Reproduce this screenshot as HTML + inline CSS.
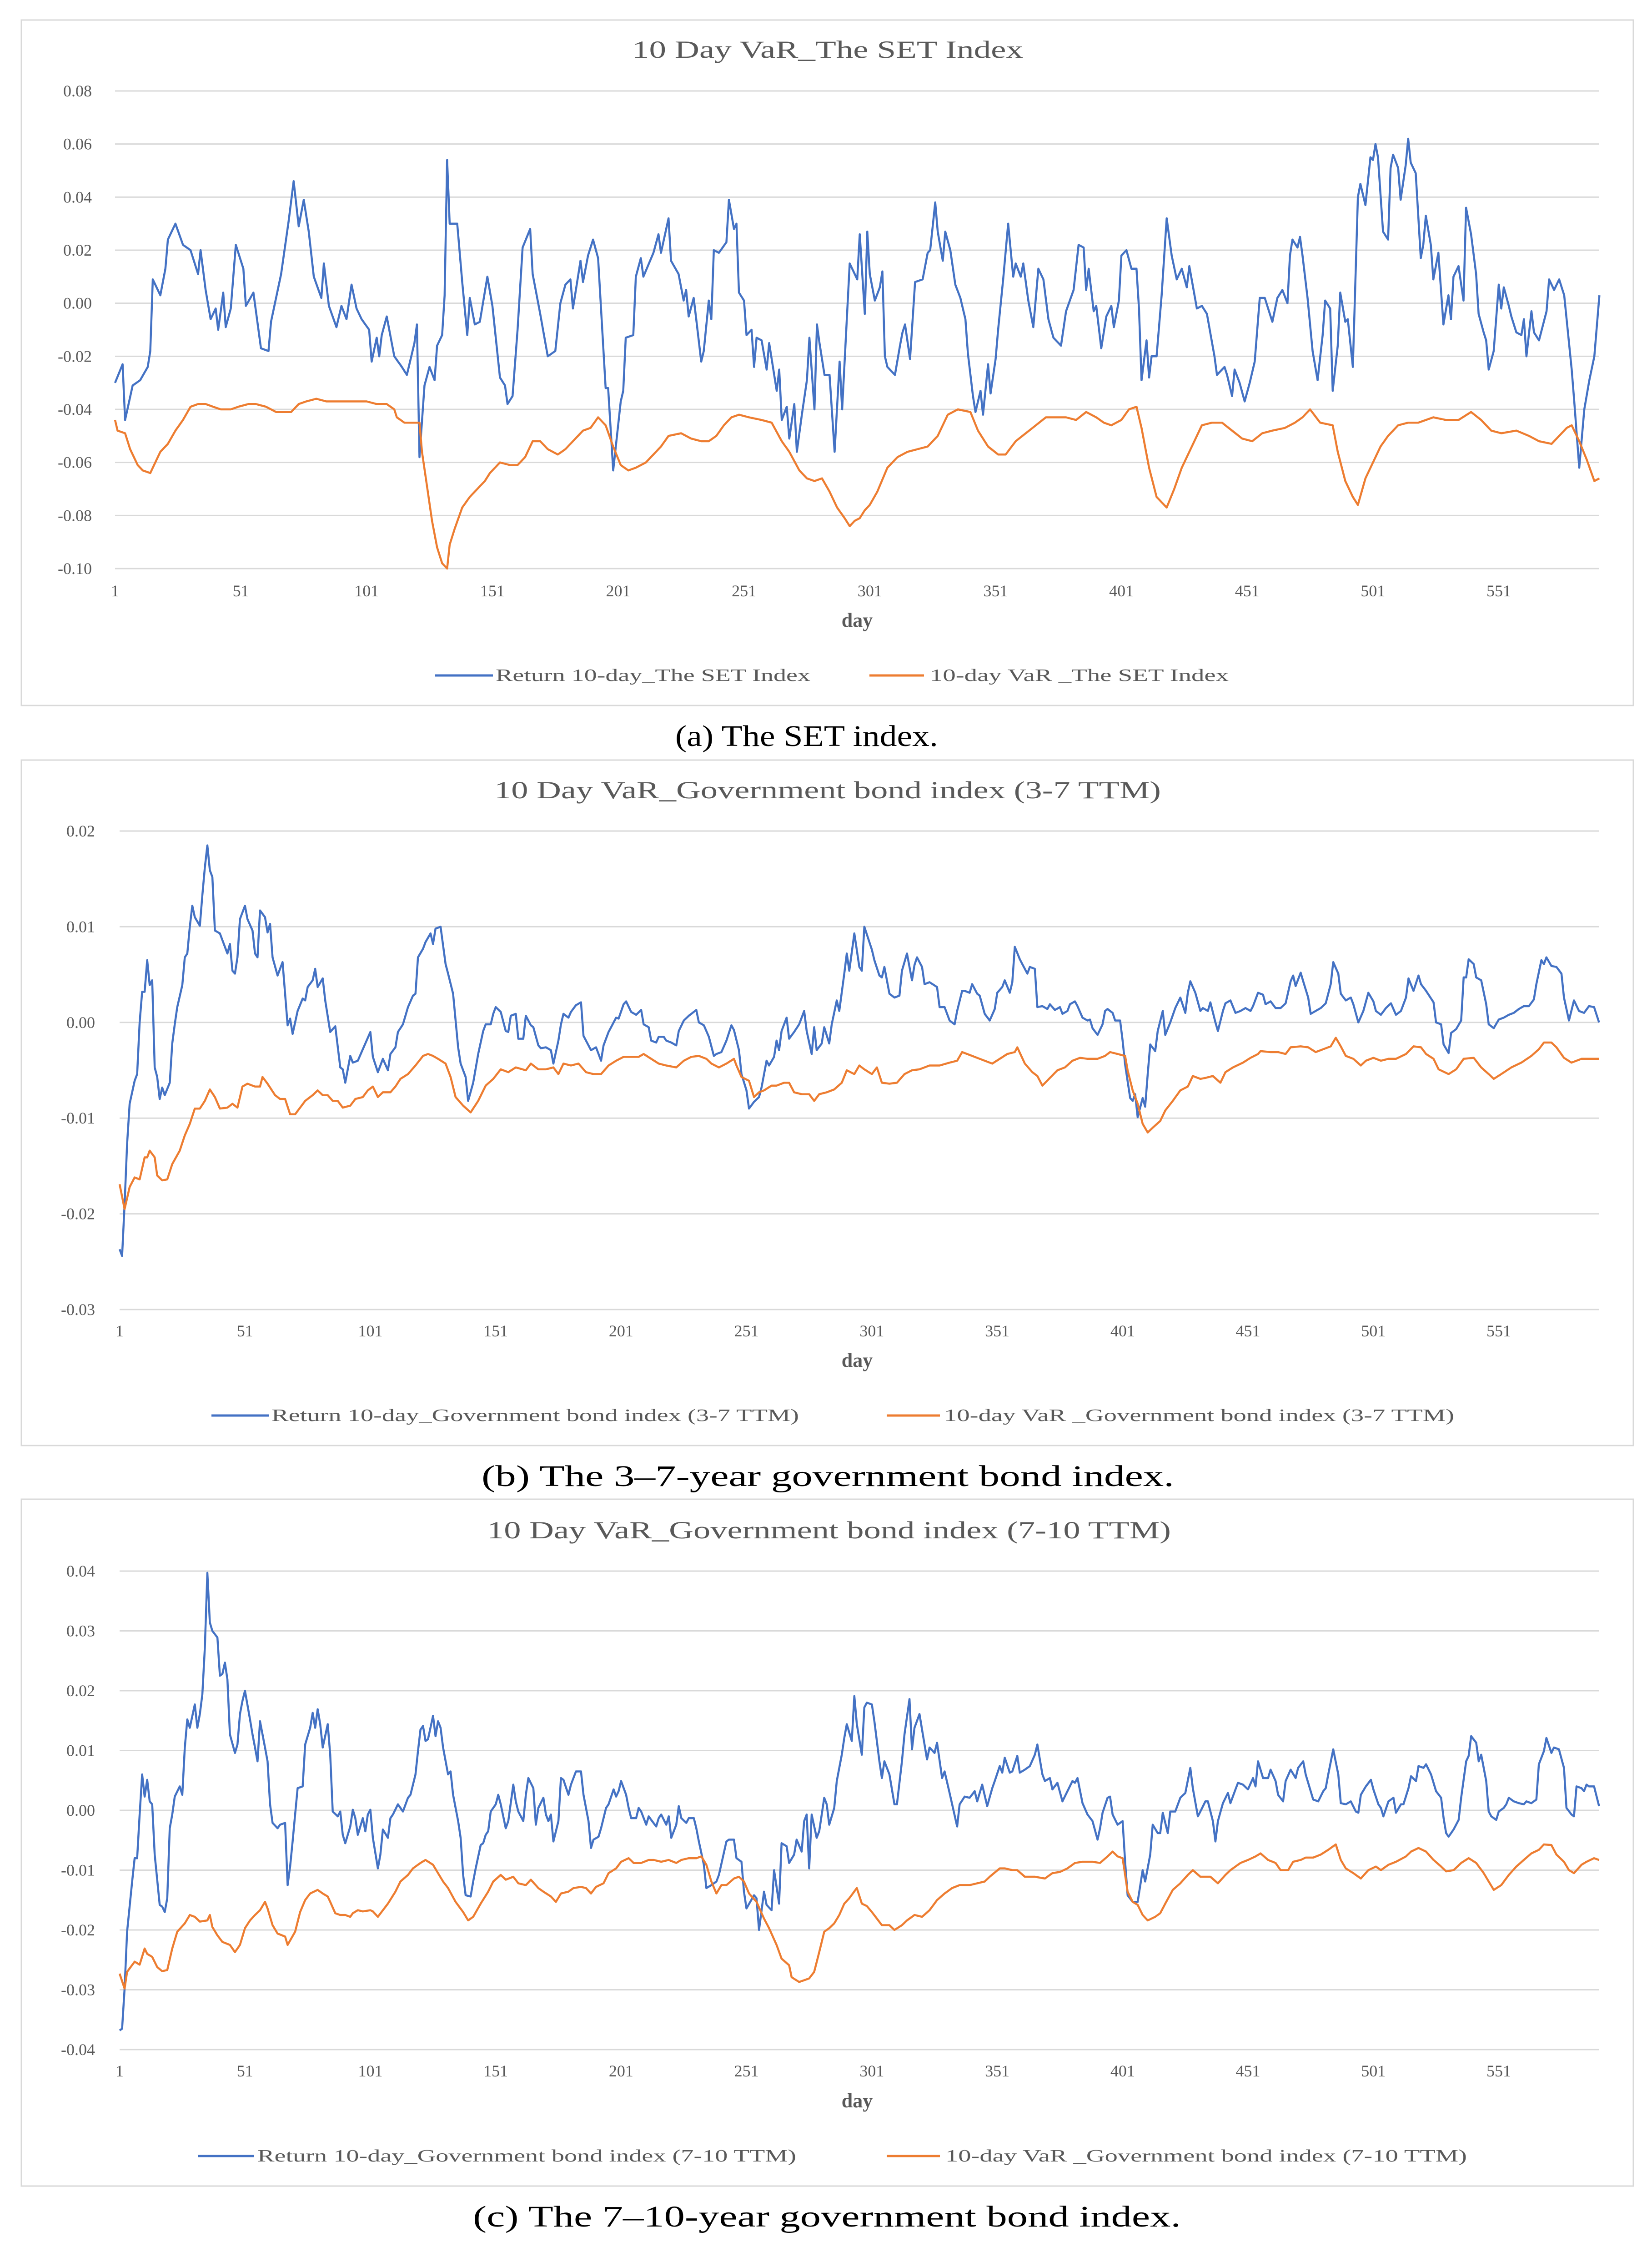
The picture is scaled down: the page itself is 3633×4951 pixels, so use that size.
<!DOCTYPE html>
<html><head><meta charset="utf-8">
<style>
html,body{margin:0;padding:0;background:#fff;}
svg{display:block;font-family:"Liberation Serif",serif;}
</style></head>
<body>
<svg id="fig" width="3633" height="4951" viewBox="0 0 3633 4951" xmlns="http://www.w3.org/2000/svg">
<rect x="0" y="0" width="3633" height="4951" fill="#fff"/>
</svg>
<script>
// ===== Panel (a) data: SET index =====
const setTicksY = [0.08,0.06,0.04,0.02,0.00,-0.02,-0.04,-0.06,-0.08,-0.10];
const dayTicks = [1,51,101,151,201,251,301,351,401,451,501,551];
const setReturn = [[1,-0.030],[4,-0.023],[5,-0.044],[8,-0.031],[11,-0.029],[14,-0.024],[15,-0.018],[16,0.009],[19,0.003],[21,0.013],[22,0.024],[25,0.030],[28,0.022],[31,0.020],[34,0.011],[35,0.020],[37,0.005],[39,-0.006],[41,-0.002],[42,-0.010],[44,0.004],[45,-0.009],[47,-0.002],[49,0.022],[52,0.013],[53,-0.001],[56,0.004],[59,-0.017],[62,-0.018],[63,-0.007],[67,0.011],[70,0.031],[72,0.046],[74,0.029],[76,0.039],[78,0.027],[80,0.010],[83,0.002],[84,0.015],[86,-0.001],[89,-0.009],[91,-0.001],[93,-0.006],[95,0.007],[97,-0.002],[99,-0.006],[102,-0.010],[103,-0.022],[105,-0.013],[106,-0.020],[107,-0.012],[109,-0.005],[112,-0.020],[115,-0.024],[117,-0.027],[120,-0.015],[121,-0.008],[122,-0.058],[124,-0.031],[126,-0.024],[128,-0.029],[129,-0.016],[131,-0.012],[132,0.003],[133,0.054],[134,0.030],[137,0.030],[139,0.008],[141,-0.012],[142,0.002],[144,-0.008],[146,-0.007],[149,0.010],[151,-0.001],[154,-0.028],[156,-0.031],[157,-0.038],[159,-0.035],[161,-0.010],[163,0.021],[166,0.028],[167,0.011],[170,-0.004],[173,-0.020],[176,-0.018],[178,0.000],[180,0.007],[182,0.009],[183,-0.002],[186,0.016],[187,0.008],[189,0.018],[191,0.024],[193,0.017],[196,-0.032],[197,-0.032],[199,-0.063],[202,-0.037],[203,-0.033],[204,-0.013],[207,-0.012],[208,0.010],[210,0.017],[211,0.010],[215,0.019],[217,0.026],[218,0.019],[221,0.032],[222,0.016],[225,0.011],[227,0.001],[228,0.005],[229,-0.005],[231,0.002],[232,-0.006],[234,-0.022],[235,-0.018],[237,0.001],[238,-0.006],[239,0.020],[241,0.019],[244,0.023],[245,0.039],[247,0.028],[248,0.030],[249,0.004],[251,0.001],[252,-0.012],[254,-0.010],[255,-0.024],[256,-0.013],[258,-0.014],[260,-0.025],[261,-0.015],[264,-0.033],[265,-0.025],[266,-0.044],[268,-0.039],[269,-0.051],[271,-0.038],[272,-0.056],[274,-0.042],[276,-0.029],[277,-0.013],[279,-0.040],[280,-0.008],[281,-0.015],[283,-0.027],[285,-0.027],[287,-0.056],[289,-0.022],[290,-0.040],[293,0.015],[296,0.009],[297,0.026],[299,-0.004],[300,0.027],[301,0.011],[303,0.001],[305,0.006],[306,0.012],[307,-0.020],[308,-0.024],[311,-0.027],[313,-0.016],[314,-0.011],[315,-0.008],[317,-0.021],[319,0.008],[322,0.009],[324,0.019],[325,0.020],[327,0.038],[328,0.027],[330,0.016],[331,0.027],[333,0.020],[335,0.007],[337,0.002],[338,-0.002],[339,-0.006],[340,-0.019],[342,-0.035],[343,-0.041],[345,-0.033],[346,-0.042],[348,-0.023],[349,-0.034],[351,-0.021],[352,-0.010],[354,0.009],[356,0.030],[358,0.010],[359,0.015],[361,0.010],[362,0.015],[364,0.001],[366,-0.009],[368,0.013],[370,0.009],[372,-0.006],[374,-0.013],[377,-0.016],[379,-0.003],[382,0.005],[384,0.022],[386,0.021],[387,0.005],[388,0.013],[390,-0.003],[391,-0.001],[393,-0.017],[395,-0.005],[397,-0.001],[398,-0.009],[400,0.001],[401,0.018],[403,0.020],[405,0.013],[407,0.013],[408,-0.002],[409,-0.029],[411,-0.014],[412,-0.028],[413,-0.020],[415,-0.020],[417,0.003],[419,0.032],[421,0.018],[423,0.009],[425,0.013],[427,0.006],[428,0.014],[431,-0.002],[433,-0.001],[435,-0.004],[438,-0.020],[439,-0.027],[442,-0.024],[443,-0.027],[445,-0.035],[446,-0.025],[448,-0.030],[450,-0.037],[452,-0.030],[454,-0.022],[456,0.002],[458,0.002],[460,-0.004],[461,-0.007],[463,0.002],[465,0.005],[467,0.000],[468,0.018],[469,0.024],[471,0.021],[472,0.025],[473,0.018],[475,0.002],[477,-0.018],[479,-0.029],[481,-0.012],[482,0.001],[484,-0.002],[485,-0.033],[487,-0.016],[488,0.004],[490,-0.007],[491,-0.006],[493,-0.024],[495,0.040],[496,0.045],[498,0.037],[500,0.055],[501,0.054],[502,0.060],[503,0.055],[505,0.027],[507,0.024],[508,0.051],[509,0.056],[511,0.051],[512,0.039],[514,0.052],[515,0.062],[516,0.053],[518,0.049],[520,0.017],[521,0.022],[522,0.033],[524,0.022],[525,0.009],[527,0.019],[529,-0.008],[531,0.003],[532,-0.006],[533,0.010],[535,0.014],[537,0.001],[538,0.036],[540,0.026],[542,0.011],[543,-0.004],[545,-0.011],[546,-0.014],[547,-0.025],[549,-0.018],[551,0.007],[552,-0.002],[553,0.006],[555,-0.001],[556,-0.005],[558,-0.011],[560,-0.012],[561,-0.006],[562,-0.020],[564,-0.003],[565,-0.011],[567,-0.014],[570,-0.003],[571,0.009],[573,0.005],[575,0.009],[577,0.003],[580,-0.025],[581,-0.037],[583,-0.062],[585,-0.040],[587,-0.029],[589,-0.020],[591,0.003]];
const setVaR = [[1,-0.044],[2,-0.048],[5,-0.049],[7,-0.055],[10,-0.061],[12,-0.063],[15,-0.064],[16,-0.062],[19,-0.056],[22,-0.053],[25,-0.048],[28,-0.044],[31,-0.039],[34,-0.038],[37,-0.038],[40,-0.039],[43,-0.040],[47,-0.040],[50,-0.039],[54,-0.038],[57,-0.038],[61,-0.039],[65,-0.041],[67,-0.041],[71,-0.041],[74,-0.038],[77,-0.037],[81,-0.036],[85,-0.037],[89,-0.037],[93,-0.037],[97,-0.037],[101,-0.037],[105,-0.038],[109,-0.038],[112,-0.040],[113,-0.043],[116,-0.045],[120,-0.045],[122,-0.045],[123,-0.056],[125,-0.069],[127,-0.082],[129,-0.092],[131,-0.098],[133,-0.100],[134,-0.091],[136,-0.085],[139,-0.077],[142,-0.073],[145,-0.070],[148,-0.067],[150,-0.064],[154,-0.060],[158,-0.061],[161,-0.061],[164,-0.058],[167,-0.052],[170,-0.052],[173,-0.055],[177,-0.057],[180,-0.055],[183,-0.052],[187,-0.048],[190,-0.047],[193,-0.043],[196,-0.046],[199,-0.054],[202,-0.061],[205,-0.063],[208,-0.062],[212,-0.060],[215,-0.057],[218,-0.054],[221,-0.050],[226,-0.049],[230,-0.051],[234,-0.052],[237,-0.052],[240,-0.050],[243,-0.046],[246,-0.043],[249,-0.042],[253,-0.043],[258,-0.044],[262,-0.045],[266,-0.052],[269,-0.056],[273,-0.063],[276,-0.066],[279,-0.067],[282,-0.066],[285,-0.071],[288,-0.077],[291,-0.081],[293,-0.084],[295,-0.082],[297,-0.081],[299,-0.078],[301,-0.076],[304,-0.071],[308,-0.062],[312,-0.058],[316,-0.056],[320,-0.055],[324,-0.054],[328,-0.050],[332,-0.042],[336,-0.040],[341,-0.041],[344,-0.048],[348,-0.054],[352,-0.057],[355,-0.057],[359,-0.052],[363,-0.049],[367,-0.046],[371,-0.043],[375,-0.043],[379,-0.043],[383,-0.044],[387,-0.041],[391,-0.043],[394,-0.045],[397,-0.046],[401,-0.044],[404,-0.040],[407,-0.039],[409,-0.047],[412,-0.062],[415,-0.073],[419,-0.077],[422,-0.070],[425,-0.062],[429,-0.054],[433,-0.046],[437,-0.045],[441,-0.045],[445,-0.048],[449,-0.051],[453,-0.052],[457,-0.049],[461,-0.048],[466,-0.047],[470,-0.045],[473,-0.043],[476,-0.040],[480,-0.045],[485,-0.046],[487,-0.056],[490,-0.067],[493,-0.073],[495,-0.076],[498,-0.066],[501,-0.060],[504,-0.054],[507,-0.050],[511,-0.046],[515,-0.045],[519,-0.045],[525,-0.043],[530,-0.044],[535,-0.044],[540,-0.041],[544,-0.044],[548,-0.048],[552,-0.049],[558,-0.048],[563,-0.050],[567,-0.052],[572,-0.053],[575,-0.050],[578,-0.047],[580,-0.046],[583,-0.052],[586,-0.059],[589,-0.067],[591,-0.066]];

// ===== Panel (b) data: Gov bond 3-7 TTM =====
const bond37TicksY = [0.02,0.01,0.00,-0.01,-0.02,-0.03];
const bond37Return = [[1,-0.0237],[2,-0.0244],[3,-0.019],[4,-0.0127],[5,-0.0085],[7,-0.0061],[8,-0.0054],[9,0.000],[10,0.0032],[11,0.0032],[12,0.0065],[13,0.0039],[14,0.0044],[15,-0.0047],[16,-0.0057],[17,-0.0080],[18,-0.0068],[19,-0.0076],[21,-0.0063],[22,-0.0022],[23,-0.0002],[24,0.0016],[26,0.0039],[27,0.0068],[28,0.0072],[29,0.0100],[30,0.0122],[31,0.0110],[33,0.0101],[34,0.0133],[35,0.0162],[36,0.0185],[37,0.0159],[38,0.0152],[39,0.0096],[41,0.0093],[42,0.0086],[44,0.0072],[45,0.0082],[46,0.0054],[47,0.0051],[48,0.0068],[49,0.0108],[51,0.0122],[52,0.0108],[54,0.0096],[55,0.0072],[56,0.0068],[57,0.0117],[59,0.0110],[60,0.0094],[61,0.0103],[62,0.0068],[64,0.0049],[66,0.0063],[68,-0.0003],[69,0.0004],[70,-0.0012],[72,0.0012],[74,0.0025],[75,0.0023],[76,0.0037],[78,0.0044],[79,0.0056],[80,0.0037],[82,0.0046],[83,0.0023],[85,-0.0010],[87,-0.0004],[89,-0.0047],[90,-0.0049],[91,-0.0063],[93,-0.0035],[94,-0.0042],[96,-0.0040],[98,-0.0028],[99,-0.0022],[101,-0.0010],[102,-0.0036],[104,-0.0052],[106,-0.0038],[108,-0.0050],[109,-0.0033],[111,-0.0026],[112,-0.0010],[114,-0.0002],[116,0.0016],[118,0.0028],[119,0.0030],[120,0.0068],[122,0.0077],[123,0.0084],[125,0.0093],[126,0.0082],[127,0.0098],[129,0.0100],[131,0.0061],[132,0.0051],[134,0.0030],[136,-0.0026],[137,-0.0043],[139,-0.0057],[140,-0.0082],[142,-0.0063],[144,-0.0033],[146,-0.0009],[147,-0.0002],[149,-0.0002],[150,0.0009],[151,0.0016],[153,0.0011],[155,-0.0009],[156,-0.0010],[157,0.0007],[159,0.0009],[160,-0.0017],[162,-0.0017],[163,0.0007],[165,-0.0003],[166,-0.0005],[168,-0.0024],[169,-0.0027],[171,-0.0026],[173,-0.0029],[174,-0.0043],[176,-0.0019],[177,-0.0002],[178,0.0009],[180,0.0005],[181,0.0011],[183,0.0018],[185,0.0021],[186,-0.0014],[187,-0.0019],[189,-0.0029],[191,-0.0026],[193,-0.0040],[194,-0.0024],[196,-0.0010],[197,-0.0005],[199,0.0005],[200,0.0004],[202,0.0019],[203,0.0022],[205,0.0011],[207,0.0008],[209,0.0013],[210,-0.0002],[212,-0.0005],[213,-0.0019],[215,-0.0021],[216,-0.0015],[218,-0.0015],[219,-0.0019],[221,-0.0021],[223,-0.0024],[224,-0.0009],[226,0.0002],[228,0.0007],[229,0.0009],[231,0.0013],[232,0.0000],[234,-0.0003],[236,-0.0015],[238,-0.0035],[239,-0.0033],[241,-0.0031],[243,-0.0019],[245,-0.0003],[246,-0.0008],[248,-0.0029],[249,-0.0054],[251,-0.0071],[252,-0.0090],[254,-0.0083],[256,-0.0078],[257,-0.0068],[259,-0.0040],[260,-0.0045],[262,-0.0036],[263,-0.0019],[264,-0.0029],[265,-0.0009],[267,0.0005],[268,-0.0017],[270,-0.0010],[272,-0.0002],[274,0.0012],[275,-0.0009],[277,-0.0033],[278,-0.0005],[279,-0.0029],[281,-0.0022],[282,-0.0005],[284,-0.0022],[285,-0.0002],[287,0.0023],[288,0.0012],[290,0.0051],[291,0.0072],[292,0.0054],[294,0.0093],[296,0.0058],[297,0.0054],[298,0.0100],[301,0.0076],[302,0.0065],[304,0.0049],[305,0.0047],[306,0.0058],[308,0.0030],[310,0.0026],[312,0.0028],[313,0.0054],[315,0.0072],[317,0.0044],[318,0.0060],[319,0.0068],[321,0.0058],[322,0.0040],[324,0.0042],[327,0.0037],[328,0.0016],[330,0.0016],[332,0.0002],[334,-0.0002],[335,0.0012],[337,0.0033],[338,0.0033],[340,0.0031],[341,0.0040],[343,0.0030],[344,0.0028],[346,0.0009],[348,0.0002],[350,0.0014],[351,0.0031],[353,0.0037],[354,0.0044],[356,0.0031],[357,0.0042],[358,0.0079],[360,0.0066],[361,0.0061],[363,0.0051],[364,0.0058],[366,0.0056],[367,0.0016],[369,0.0017],[371,0.0014],[372,0.0019],[374,0.0013],[376,0.0016],[377,0.0009],[379,0.0012],[380,0.0019],[382,0.0022],[383,0.0017],[385,0.0005],[387,0.0002],[388,0.0003],[389,-0.0006],[391,-0.0013],[393,-0.0002],[394,0.0012],[395,0.0014],[397,0.0010],[398,0.0002],[400,0.0002],[401,-0.0019],[402,-0.0044],[404,-0.0079],[405,-0.0082],[406,-0.0075],[407,-0.0099],[409,-0.0079],[410,-0.0088],[411,-0.0054],[412,-0.0023],[414,-0.0030],[415,-0.0009],[417,0.0012],[418,-0.0013],[420,0.0000],[422,0.0015],[424,0.0026],[426,0.0010],[427,0.0031],[428,0.0043],[430,0.0031],[432,0.0012],[433,0.0015],[435,0.0012],[436,0.0021],[438,0.0000],[439,-0.0009],[441,0.0012],[442,0.0020],[444,0.0023],[446,0.0010],[448,0.0012],[450,0.0015],[452,0.0012],[453,0.0017],[455,0.0031],[457,0.0029],[458,0.0019],[460,0.0022],[462,0.0015],[464,0.0015],[466,0.0020],[468,0.0043],[469,0.0049],[470,0.0038],[472,0.0052],[473,0.0043],[475,0.0026],[476,0.0009],[478,0.0012],[480,0.0015],[482,0.0020],[484,0.0040],[485,0.0063],[487,0.0051],[488,0.0030],[490,0.0023],[492,0.0026],[493,0.0019],[495,0.0000],[497,0.0012],[499,0.0031],[501,0.0022],[502,0.0012],[504,0.0008],[506,0.0015],[508,0.0020],[510,0.0008],[512,0.0012],[514,0.0026],[515,0.0046],[517,0.0033],[519,0.0049],[520,0.0040],[522,0.0033],[525,0.0021],[526,0.0000],[528,-0.0002],[529,-0.0023],[531,-0.0032],[532,-0.0011],[534,-0.0007],[536,0.0002],[537,0.0047],[538,0.0047],[539,0.0066],[541,0.0061],[542,0.0047],[544,0.0044],[546,0.0019],[547,-0.0002],[549,-0.0006],[551,0.0003],[553,0.0005],[555,0.0008],[557,0.0010],[559,0.0014],[561,0.0017],[563,0.0017],[565,0.0024],[566,0.0040],[568,0.0065],[569,0.0061],[570,0.0068],[572,0.0059],[574,0.0058],[576,0.0051],[577,0.0026],[579,0.0002],[581,0.0023],[583,0.0012],[585,0.0010],[587,0.0017],[589,0.0016],[591,0.0000]];
const bond37VaR = [[1,-0.0169],[3,-0.0195],[5,-0.0172],[7,-0.0162],[9,-0.0164],[11,-0.0141],[12,-0.0141],[13,-0.0134],[15,-0.0141],[16,-0.0160],[18,-0.0165],[20,-0.0164],[22,-0.0148],[25,-0.0134],[27,-0.0118],[29,-0.0106],[31,-0.0090],[33,-0.0090],[35,-0.0082],[37,-0.0070],[39,-0.0078],[41,-0.0090],[44,-0.0089],[46,-0.0085],[48,-0.0089],[50,-0.0067],[52,-0.0064],[55,-0.0067],[57,-0.0067],[58,-0.0057],[60,-0.0064],[63,-0.0076],[65,-0.0080],[67,-0.0080],[69,-0.0096],[71,-0.0096],[73,-0.0089],[75,-0.0082],[78,-0.0076],[80,-0.0071],[82,-0.0076],[84,-0.0076],[86,-0.0082],[88,-0.0082],[90,-0.0089],[93,-0.0087],[95,-0.0080],[98,-0.0078],[100,-0.0071],[102,-0.0067],[104,-0.0078],[106,-0.0073],[109,-0.0073],[111,-0.0067],[113,-0.0059],[116,-0.0054],[119,-0.0045],[122,-0.0035],[124,-0.0033],[126,-0.0035],[128,-0.0038],[131,-0.0043],[133,-0.0057],[135,-0.0078],[138,-0.0087],[141,-0.0094],[144,-0.0082],[147,-0.0066],[150,-0.0059],[153,-0.0049],[156,-0.0052],[159,-0.0047],[163,-0.0050],[165,-0.0043],[168,-0.0049],[171,-0.0049],[174,-0.0047],[176,-0.0054],[178,-0.0043],[181,-0.0045],[184,-0.0043],[187,-0.0052],[190,-0.0054],[193,-0.0054],[196,-0.0045],[199,-0.0040],[202,-0.0036],[205,-0.0036],[208,-0.0036],[210,-0.0033],[213,-0.0038],[216,-0.0043],[219,-0.0045],[223,-0.0047],[226,-0.0040],[229,-0.0036],[232,-0.0035],[235,-0.0038],[237,-0.0043],[240,-0.0047],[243,-0.0043],[246,-0.0038],[247,-0.0045],[249,-0.0057],[252,-0.0061],[254,-0.0078],[256,-0.0073],[258,-0.0071],[261,-0.0066],[263,-0.0066],[266,-0.0063],[268,-0.0063],[270,-0.0073],[273,-0.0075],[276,-0.0075],[278,-0.0082],[280,-0.0075],[283,-0.0073],[286,-0.0070],[289,-0.0063],[291,-0.0050],[294,-0.0054],[296,-0.0045],[298,-0.0049],[301,-0.0054],[303,-0.0047],[305,-0.0063],[308,-0.0064],[311,-0.0063],[314,-0.0054],[317,-0.0050],[320,-0.0049],[324,-0.0045],[328,-0.0045],[332,-0.0042],[335,-0.0040],[337,-0.0031],[341,-0.0035],[344,-0.0038],[349,-0.0043],[352,-0.0038],[355,-0.0033],[358,-0.0031],[359,-0.0026],[362,-0.0043],[365,-0.0052],[367,-0.0056],[369,-0.0066],[372,-0.0058],[375,-0.0050],[378,-0.0047],[381,-0.0040],[384,-0.0037],[387,-0.0038],[391,-0.0038],[394,-0.0035],[396,-0.0031],[399,-0.0033],[402,-0.0035],[403,-0.0050],[405,-0.0071],[407,-0.0085],[409,-0.0106],[411,-0.0115],[413,-0.0110],[416,-0.0103],[418,-0.0092],[421,-0.0082],[424,-0.0071],[427,-0.0067],[429,-0.0056],[432,-0.0059],[434,-0.0058],[437,-0.0056],[440,-0.0063],[442,-0.0052],[445,-0.0047],[449,-0.0042],[452,-0.0037],[455,-0.0033],[456,-0.0030],[460,-0.0031],[463,-0.0031],[466,-0.0033],[468,-0.0026],[472,-0.0025],[475,-0.0026],[478,-0.0031],[481,-0.0028],[484,-0.0025],[486,-0.0016],[488,-0.0025],[490,-0.0035],[493,-0.0038],[496,-0.0045],[498,-0.0040],[501,-0.0037],[504,-0.0040],[507,-0.0038],[510,-0.0038],[514,-0.0033],[517,-0.0025],[520,-0.0026],[522,-0.0033],[525,-0.0038],[527,-0.0049],[531,-0.0054],[534,-0.0049],[537,-0.0038],[541,-0.0037],[544,-0.0047],[547,-0.0054],[549,-0.0059],[552,-0.0054],[556,-0.0047],[560,-0.0042],[564,-0.0035],[567,-0.0028],[569,-0.0021],[572,-0.0021],[574,-0.0026],[577,-0.0037],[580,-0.0042],[584,-0.0038],[587,-0.0038],[591,-0.0038]];

// ===== Panel (c) data: Gov bond 7-10 TTM =====
const bond710TicksY = [0.04,0.03,0.02,0.01,0.00,-0.01,-0.02,-0.03,-0.04];
const bond710Return = [[1,-0.0368],[2,-0.0365],[3,-0.0298],[4,-0.0203],[6,-0.0119],[7,-0.0080],[8,-0.0080],[9,-0.0007],[10,0.0060],[11,0.0023],[12,0.0051],[13,0.0015],[14,0.0010],[15,-0.0074],[17,-0.0158],[18,-0.0161],[19,-0.0170],[20,-0.0147],[21,-0.0030],[22,-0.0007],[23,0.0023],[25,0.0040],[26,0.0026],[27,0.0105],[28,0.0152],[29,0.0138],[31,0.0177],[32,0.0138],[33,0.0161],[34,0.0194],[35,0.0272],[36,0.0397],[37,0.0314],[38,0.0300],[40,0.0289],[41,0.0225],[42,0.0228],[43,0.0247],[44,0.0219],[45,0.0127],[47,0.0096],[48,0.0110],[49,0.0161],[50,0.0183],[51,0.0200],[53,0.0152],[54,0.0127],[55,0.0105],[56,0.0082],[57,0.0149],[59,0.0105],[60,0.0082],[61,0.0010],[62,-0.0021],[64,-0.0030],[65,-0.0024],[67,-0.0021],[68,-0.0125],[69,-0.0094],[70,-0.0052],[71,-0.0007],[72,0.0037],[74,0.0040],[75,0.0110],[77,0.0138],[78,0.0163],[79,0.0138],[80,0.0169],[81,0.0144],[82,0.0105],[84,0.0144],[85,0.0093],[86,-0.0002],[88,-0.0010],[89,-0.0002],[90,-0.0041],[91,-0.0055],[93,-0.0027],[94,0.0001],[95,-0.0013],[96,-0.0041],[98,-0.0013],[99,-0.0035],[100,-0.0007],[101,0.0001],[102,-0.0046],[104,-0.0097],[105,-0.0074],[106,-0.0032],[108,-0.0046],[109,-0.0013],[110,-0.0007],[112,0.0010],[113,0.0004],[114,-0.0002],[116,0.0021],[117,0.0026],[119,0.0060],[120,0.0099],[121,0.0135],[122,0.0141],[123,0.0116],[124,0.0119],[126,0.0158],[127,0.0124],[128,0.0149],[129,0.0138],[130,0.0105],[132,0.0060],[133,0.0065],[134,0.0026],[136,-0.0018],[137,-0.0046],[138,-0.0108],[139,-0.0142],[141,-0.0144],[142,-0.0119],[143,-0.0097],[145,-0.0058],[146,-0.0055],[147,-0.0041],[148,-0.0035],[149,-0.0002],[151,0.0010],[152,0.0026],[153,0.0010],[155,-0.0030],[156,-0.0018],[158,0.0043],[159,0.0015],[160,-0.0002],[162,-0.0018],[163,0.0026],[164,0.0054],[166,0.0037],[167,-0.0024],[168,0.0004],[170,0.0021],[171,-0.0007],[172,-0.0018],[173,-0.0007],[174,-0.0052],[176,-0.0018],[177,0.0054],[178,0.0051],[180,0.0026],[181,0.0043],[182,0.0054],[183,0.0065],[185,0.0065],[186,0.0026],[188,-0.0018],[189,-0.0063],[190,-0.0049],[192,-0.0044],[193,-0.0030],[195,0.0004],[196,0.0010],[198,0.0035],[199,0.0023],[200,0.0032],[201,0.0049],[203,0.0026],[204,0.0004],[205,-0.0013],[207,-0.0013],[208,0.0004],[209,-0.0002],[211,-0.0024],[212,-0.0010],[213,-0.0016],[215,-0.0027],[216,-0.0013],[217,-0.0007],[219,-0.0024],[220,-0.0010],[221,-0.0046],[223,-0.0024],[224,0.0007],[225,-0.0013],[227,-0.0021],[228,-0.0013],[230,-0.0013],[231,-0.0030],[232,-0.0052],[234,-0.0091],[235,-0.0130],[237,-0.0125],[239,-0.0119],[240,-0.0108],[243,-0.0052],[244,-0.0049],[246,-0.0049],[247,-0.0080],[249,-0.0086],[250,-0.0136],[251,-0.0164],[254,-0.0142],[255,-0.0147],[256,-0.0200],[258,-0.0136],[259,-0.0158],[261,-0.0167],[262,-0.0100],[264,-0.0156],[265,-0.0055],[267,-0.0060],[268,-0.0088],[270,-0.0074],[271,-0.0049],[273,-0.0069],[274,-0.0018],[275,-0.0007],[276,-0.0097],[277,-0.0007],[279,-0.0046],[280,-0.0035],[282,0.0021],[283,0.0010],[284,-0.0024],[286,0.0004],[287,0.0049],[289,0.0093],[290,0.0121],[291,0.0144],[293,0.0116],[294,0.0191],[295,0.0144],[297,0.0093],[298,0.0172],[299,0.0180],[301,0.0177],[302,0.0149],[304,0.0082],[305,0.0054],[306,0.0082],[308,0.0060],[310,0.0010],[311,0.0010],[313,0.0082],[314,0.0127],[316,0.0186],[317,0.0102],[318,0.0138],[320,0.0161],[321,0.0135],[323,0.0085],[324,0.0105],[326,0.0096],[327,0.0113],[329,0.0054],[330,0.0065],[332,0.0029],[335,-0.0027],[336,0.0010],[338,0.0023],[340,0.0021],[342,0.0032],[343,0.0015],[345,0.0043],[347,0.0007],[349,0.0037],[350,0.0049],[352,0.0074],[353,0.0063],[354,0.0088],[356,0.0063],[357,0.0065],[359,0.0091],[360,0.0063],[362,0.0068],[364,0.0074],[366,0.0093],[367,0.0110],[369,0.0060],[370,0.0049],[372,0.0054],[373,0.0035],[375,0.0046],[377,0.0015],[379,0.0032],[381,0.0049],[382,0.0046],[383,0.0054],[385,0.0012],[387,-0.0007],[389,-0.0018],[391,-0.0049],[392,-0.0030],[393,-0.0004],[395,0.0021],[396,0.0023],[397,-0.0007],[399,-0.0024],[401,-0.0018],[402,-0.0086],[403,-0.0142],[405,-0.0153],[407,-0.0153],[409,-0.0100],[410,-0.0119],[412,-0.0074],[413,-0.0024],[415,-0.0038],[416,-0.0038],[417,-0.0004],[419,-0.0038],[420,-0.0002],[422,-0.0002],[424,0.0021],[426,0.0029],[428,0.0071],[429,0.0037],[431,-0.0010],[432,-0.0002],[434,0.0015],[435,0.0015],[437,-0.0018],[438,-0.0052],[439,-0.0018],[441,0.0012],[443,0.0029],[444,0.0012],[446,0.0035],[447,0.0046],[449,0.0043],[451,0.0035],[453,0.0054],[454,0.0040],[455,0.0082],[457,0.0054],[459,0.0054],[460,0.0068],[462,0.0049],[463,0.0026],[465,0.0015],[466,0.0049],[468,0.0068],[470,0.0054],[471,0.0071],[473,0.0082],[474,0.0060],[476,0.0032],[477,0.0018],[479,0.0015],[481,0.0032],[482,0.0037],[483,0.0060],[485,0.0102],[487,0.0060],[488,0.0012],[490,0.0010],[492,0.0015],[494,-0.0002],[495,-0.0004],[496,0.0026],[498,0.0040],[500,0.0051],[501,0.0035],[503,0.0010],[504,0.0004],[505,-0.0010],[507,0.0015],[509,0.0021],[510,-0.0004],[512,0.0010],[513,0.0010],[515,0.0037],[516,0.0057],[518,0.0049],[519,0.0074],[521,0.0071],[522,0.0077],[524,0.0060],[526,0.0032],[528,0.0021],[529,-0.0013],[530,-0.0038],[531,-0.0044],[533,-0.0032],[535,-0.0016],[536,0.0021],[538,0.0082],[539,0.0091],[540,0.0124],[542,0.0113],[543,0.0082],[544,0.0093],[546,0.0049],[547,-0.0002],[548,-0.0010],[550,-0.0016],[551,-0.0002],[553,0.0004],[554,0.0010],[555,0.0021],[557,0.0015],[559,0.0012],[561,0.0010],[562,0.0015],[564,0.0012],[566,0.0018],[567,0.0077],[569,0.0099],[570,0.0121],[572,0.0096],[573,0.0105],[575,0.0102],[577,0.0071],[578,0.0004],[580,-0.0007],[581,-0.0010],[582,0.0040],[584,0.0037],[585,0.0032],[586,0.0043],[587,0.0040],[589,0.0040],[591,0.0007]];
const bond710VaR = [[1,-0.0273],[3,-0.0298],[4,-0.0270],[7,-0.0253],[9,-0.0258],[11,-0.0231],[12,-0.0240],[14,-0.0245],[16,-0.0262],[18,-0.0269],[20,-0.0267],[22,-0.0231],[24,-0.0203],[27,-0.0189],[29,-0.0175],[31,-0.0178],[33,-0.0186],[36,-0.0184],[37,-0.0175],[38,-0.0195],[40,-0.0209],[42,-0.0220],[45,-0.0225],[47,-0.0237],[49,-0.0225],[51,-0.0197],[53,-0.0184],[55,-0.0175],[57,-0.0167],[59,-0.0153],[60,-0.0164],[62,-0.0192],[64,-0.0206],[67,-0.0211],[68,-0.0225],[71,-0.0203],[73,-0.0170],[75,-0.0150],[77,-0.0139],[80,-0.0133],[82,-0.0139],[84,-0.0144],[85,-0.0153],[87,-0.0172],[89,-0.0175],[91,-0.0175],[93,-0.0178],[94,-0.0172],[96,-0.0167],[98,-0.0169],[101,-0.0167],[102,-0.0169],[104,-0.0178],[106,-0.0167],[108,-0.0156],[111,-0.0136],[113,-0.0119],[116,-0.0108],[118,-0.0097],[121,-0.0088],[123,-0.0083],[126,-0.0091],[128,-0.0105],[130,-0.0119],[132,-0.0130],[135,-0.0153],[138,-0.0170],[140,-0.0184],[142,-0.0178],[145,-0.0156],[148,-0.0136],[150,-0.0119],[153,-0.0108],[155,-0.0116],[158,-0.0111],[160,-0.0122],[163,-0.0125],[165,-0.0116],[168,-0.0130],[170,-0.0136],[173,-0.0144],[175,-0.0153],[177,-0.0139],[180,-0.0136],[182,-0.0130],[185,-0.0128],[187,-0.0130],[189,-0.0139],[191,-0.0128],[194,-0.0122],[196,-0.0105],[199,-0.0097],[201,-0.0086],[204,-0.0080],[206,-0.0088],[209,-0.0088],[212,-0.0083],[214,-0.0083],[217,-0.0086],[220,-0.0083],[223,-0.0088],[225,-0.0083],[228,-0.0080],[231,-0.0080],[233,-0.0077],[235,-0.0091],[237,-0.0119],[239,-0.0139],[241,-0.0125],[243,-0.0125],[246,-0.0114],[248,-0.0111],[250,-0.0119],[252,-0.0139],[255,-0.0153],[258,-0.0181],[260,-0.0197],[263,-0.0225],[265,-0.0248],[268,-0.0259],[269,-0.0279],[272,-0.0287],[274,-0.0284],[276,-0.0281],[278,-0.0270],[280,-0.0237],[282,-0.0203],[284,-0.0197],[286,-0.0189],[288,-0.0175],[290,-0.0156],[292,-0.0147],[295,-0.0130],[297,-0.0156],[299,-0.0160],[301,-0.0170],[303,-0.0181],[305,-0.0192],[308,-0.0192],[310,-0.0200],[313,-0.0192],[315,-0.0184],[318,-0.0175],[321,-0.0178],[324,-0.0167],[327,-0.0150],[330,-0.0139],[333,-0.0130],[336,-0.0125],[340,-0.0125],[343,-0.0122],[346,-0.0119],[348,-0.0111],[352,-0.0097],[354,-0.0097],[357,-0.0100],[359,-0.0100],[362,-0.0111],[366,-0.0111],[370,-0.0114],[373,-0.0105],[376,-0.0103],[379,-0.0097],[382,-0.0088],[385,-0.0086],[389,-0.0086],[392,-0.0088],[395,-0.0077],[397,-0.0069],[399,-0.0077],[401,-0.0080],[403,-0.0136],[405,-0.0153],[407,-0.0158],[409,-0.0175],[411,-0.0184],[414,-0.0178],[416,-0.0172],[418,-0.0156],[421,-0.0133],[424,-0.0122],[427,-0.0108],[429,-0.0100],[432,-0.0111],[436,-0.0111],[439,-0.0122],[442,-0.0108],[444,-0.0100],[448,-0.0088],[451,-0.0083],[454,-0.0077],[456,-0.0072],[459,-0.0083],[462,-0.0088],[464,-0.0100],[467,-0.0100],[469,-0.0086],[472,-0.0083],[474,-0.0079],[477,-0.0079],[480,-0.0074],[483,-0.0066],[486,-0.0057],[488,-0.0083],[490,-0.0097],[493,-0.0105],[496,-0.0114],[499,-0.0100],[502,-0.0094],[504,-0.0100],[507,-0.0091],[510,-0.0086],[514,-0.0077],[516,-0.0069],[519,-0.0063],[522,-0.0069],[525,-0.0083],[528,-0.0094],[530,-0.0102],[533,-0.0100],[536,-0.0088],[539,-0.0080],[542,-0.0088],[545,-0.0105],[547,-0.0119],[549,-0.0133],[552,-0.0125],[555,-0.0108],[558,-0.0094],[561,-0.0083],[564,-0.0072],[567,-0.0066],[569,-0.0057],[572,-0.0058],[574,-0.0074],[577,-0.0086],[579,-0.0100],[581,-0.0105],[584,-0.0091],[586,-0.0086],[589,-0.0080],[591,-0.0083]];

const NS = "http://www.w3.org/2000/svg";
const svg = document.getElementById('fig');
function mk(tag, attrs, parent){
  const e = document.createElementNS(NS, tag);
  for (const k in attrs) e.setAttribute(k, attrs[k]);
  (parent||svg).appendChild(e);
  return e;
}
function fmt(v){ return (v<0?'-':'') + Math.abs(v).toFixed(2); }

function panel(cfg){
  const g = mk('g', {});
  
  
  const box = mk('rect', {x:cfg.box[0], y:cfg.box[1], width:cfg.box[2]-cfg.box[0], height:cfg.box[3]-cfg.box[1], fill:'#fff', stroke:'#d9d9d9', 'stroke-width':3}, g);
  
  
  const yMax = cfg.ticksY[0], yMin = cfg.ticksY[cfg.ticksY.length-1];
  const ys = v => cfg.yTop + (yMax - v)/(yMax - yMin)*(cfg.yBot - cfg.yTop);
  const xs = d => cfg.x0 + (d-1)*(cfg.x551 - cfg.x0)/550;
  // gridlines + y labels
  cfg.ticksY.forEach(t => {
    const ln = mk('line', {x1:cfg.x0, x2:3517, y1:ys(t), y2:ys(t), stroke:'#d9d9d9', 'stroke-width':3}, g);
    
    
    const tx = mk('text', {x:cfg.yLabelX, y:ys(t)+12, 'text-anchor':'end', 'font-size':36, fill:'#595959'}, g);
    tx.textContent = fmt(t);
    
    
  });
  dayTicks.forEach(d => {
    const tx = mk('text', {x:xs(d), y:cfg.xLabelY, 'text-anchor':'middle', 'font-size':36, fill:'#595959'}, g);
    tx.textContent = String(d);
    
    
  });
  const ax = mk('text', {x:1885, y:cfg.dayY, 'text-anchor':'middle', 'font-size':44, 'font-weight':'bold', fill:'#595959'}, g);
  ax.textContent = 'day';
  
  
  const tt = mk('text', {x:cfg.title[0], y:cfg.titleY, 'font-size':54, fill:'#595959', textLength:cfg.title[1]-cfg.title[0], lengthAdjust:'spacingAndGlyphs'}, g);
  tt.textContent = cfg.titleText;
  
  
  // series
  function line(data, color, nm){
    const d = data.map((p,i) => (i?'L':'M') + xs(p[0]).toFixed(1) + ' ' + ys(p[1]).toFixed(1)).join(' ');
    const p = mk('path', {d:d, fill:'none', stroke:color, 'stroke-width':4.5, 'stroke-linejoin':'round'}, g);
    
    
  }
  line(cfg.ret, '#4472c4', 'return-line');
  line(cfg.vaR, '#ed7d31', 'var-line');
  // legend
  const L = cfg.legend;
  const l1 = mk('line', {x1:L[0], x2:L[1], y1:cfg.legY-12, y2:cfg.legY-12, stroke:'#4472c4', 'stroke-width':5}, g);
  
  
  const t1 = mk('text', {x:L[2], y:cfg.legY, 'font-size':38, fill:'#595959', textLength:L[3]-L[2], lengthAdjust:'spacingAndGlyphs'}, g);
  t1.textContent = cfg.legText[0];
  
  
  const l2 = mk('line', {x1:L[4], x2:L[5], y1:cfg.legY-12, y2:cfg.legY-12, stroke:'#ed7d31', 'stroke-width':5}, g);
  
  
  const t2 = mk('text', {x:L[6], y:cfg.legY, 'font-size':38, fill:'#595959', textLength:L[7]-L[6], lengthAdjust:'spacingAndGlyphs'}, g);
  t2.textContent = cfg.legText[1];
  
  
  // caption
  const cp = mk('text', {x:cfg.cap[0], y:cfg.capY, 'font-size':66, fill:'#000', textLength:cfg.cap[1]-cfg.cap[0], lengthAdjust:'spacingAndGlyphs'}, svg);
  cp.textContent = cfg.capText;
  
  
}

panel({name:'panel-a-set-index', box:[47,44,3592,1551], ticksY:setTicksY, yTop:200, yBot:1250, x0:253, x551:3296,
  yLabelX:202, xLabelY:1311, dayY:1378, title:[1390,2250], titleY:127, titleText:'10 Day VaR_The SET Index',
  ret:setReturn, vaR:setVaR, legY:1497, legend:[957,1084,1090,1782,1912,2032,2045,2702],
  legText:['Return 10-day_The SET Index','10-day VaR _The SET Index'], cap:[1485,2063], capY:1640, capText:'(a) The SET index.'});
panel({name:'panel-b-bond-3-7', box:[47,1671,3592,3178], ticksY:bond37TicksY, yTop:1827, yBot:2879, x0:263, x551:3296,
  yLabelX:209, xLabelY:2938, dayY:3005, title:[1087,2553], titleY:1755, titleText:'10 Day VaR_Government bond index (3-7 TTM)',
  ret:bond37Return, vaR:bond37VaR, legY:3124, legend:[465,591,597,1757,1950,2067,2076,3198],
  legText:['Return 10-day_Government bond index (3-7 TTM)','10-day VaR _Government bond index (3-7 TTM)'], cap:[1059,2582], capY:3267, capText:'(b) The 3\u20137-year government bond index.'});
panel({name:'panel-c-bond-7-10', box:[47,3296,3592,4806], ticksY:bond710TicksY, yTop:3454, yBot:4506, x0:263, x551:3296,
  yLabelX:209, xLabelY:4565, dayY:4633, title:[1071,2575], titleY:3382, titleText:'10 Day VaR_Government bond index (7-10 TTM)',
  ret:bond710Return, vaR:bond710VaR, legY:4752, legend:[436,559,566,1751,1950,2067,2079,3226],
  legText:['Return 10-day_Government bond index (7-10 TTM)','10-day VaR _Government bond index (7-10 TTM)'], cap:[1040,2597], capY:4895, capText:'(c) The 7\u201310-year government bond index.'});
</script>
</body></html>
